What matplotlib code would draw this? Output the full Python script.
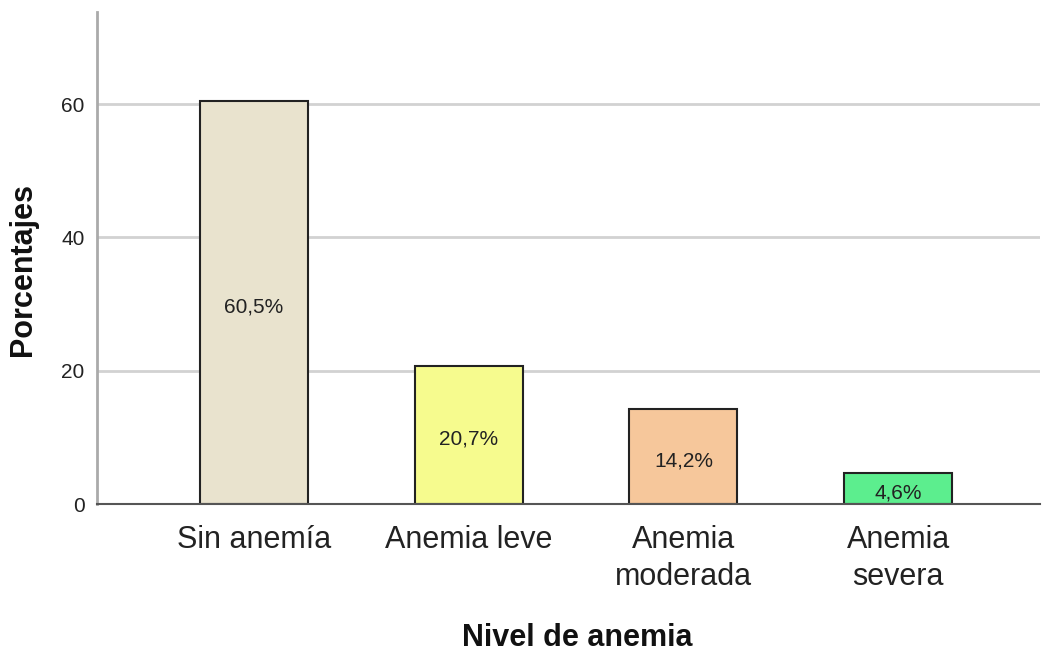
import matplotlib
matplotlib.use("Agg")
from matplotlib import pyplot as plt

categorias = ["Sin anemía", "Anemia leve", "Anemia\nmoderada", "Anemia\nsevera"]
porcentajes = [60.5, 20.7, 14.2, 4.6]
etiquetas = ["60,5%", "20,7%", "14,2%", "4,6%"]
colores = ["#E9E3CE", "#F6FB8E", "#F6C79B", "#5CEE8E"]

plt.rcParams['font.family'] = ['Liberation Sans', 'DejaVu Sans']

fig = plt.figure(figsize=(10.46, 6.59), dpi=100)
ax = fig.add_axes([97/1046, 1-504/659, (1040-97)/1046, (504-12)/659])

x = list(range(len(categorias)))
ax.bar(x, porcentajes, width=0.503, color=colores, edgecolor="#222222", linewidth=1.5, zorder=3)

# etiquetas dentro de las barras
for xi, v, t in zip(x, porcentajes, etiquetas):
    ax.annotate(t, (xi, v / 2), xytext=(0, -3), textcoords="offset points",
                ha="center", va="center", fontsize=15, color="#222222", zorder=4)

ax.set_xlim(-0.73, 3.66)
ax.set_ylim(0, 73.8)
ax.set_yticks([0, 20, 40, 60])
ax.set_xticks(x)
ax.set_xticklabels(categorias, fontsize=22, color="#222222", linespacing=1.3)
ax.tick_params(axis="x", length=0, pad=15)
ax.tick_params(axis="y", length=0, pad=9, labelsize=15, labelcolor="#222222")

ax.yaxis.grid(True, color="#d2d2d2", linewidth=2, zorder=0)
ax.set_axisbelow(True)

for s in ["top", "right"]:
    ax.spines[s].set_visible(False)
ax.spines["left"].set_color("#aaaaaa")
ax.spines["left"].set_linewidth(2)
ax.spines["bottom"].set_color("#555555")
ax.spines["bottom"].set_linewidth(1.5)
ax.spines["bottom"].set_zorder(5)

fig.text(23/1046, 1-270/659, "Porcentajes", rotation=90, ha="center", va="center",
         fontsize=22, fontweight="bold", color="#111111")
fig.text(577/1046, 1-638/659, "Nivel de anemia", ha="center", va="center",
         fontsize=22, fontweight="bold", color="#111111")

fig.savefig("out.png", dpi=100)
